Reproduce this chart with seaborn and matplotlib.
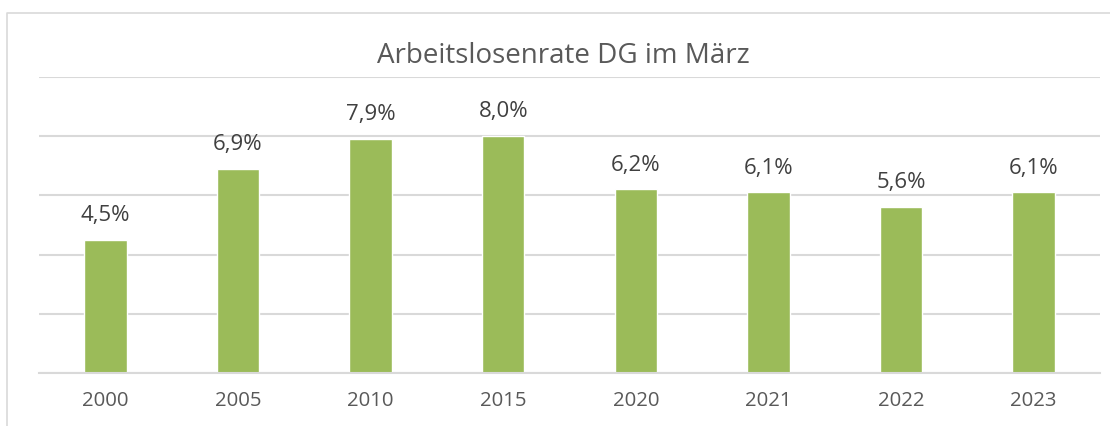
import matplotlib
matplotlib.use("Agg")
import matplotlib.pyplot as plt
from matplotlib.lines import Line2D
import seaborn as sns
import pandas as pd

# data
years = ["2000", "2005", "2010", "2015", "2020", "2021", "2022", "2023"]
rates = [4.5, 6.9, 7.9, 8.0, 6.2, 6.1, 5.6, 6.1]
labels = ["4,5%", "6,9%", "7,9%", "8,0%", "6,2%", "6,1%", "5,6%", "6,1%"]

df = pd.DataFrame({"Jahr": years, "Rate": rates})

sns.set_theme(style="white")
plt.rcParams["font.family"] = ["Open Sans", "DejaVu Sans"]

W, H = 1110, 426
fig = plt.figure(figsize=(W / 100, H / 100), dpi=100)
ax = fig.add_axes([39 / W, 1 - 373 / H, (1100 - 39) / W, (373 - 77) / H])

sns.barplot(data=df, x="Jahr", y="Rate", color="#9BBB59", width=0.32,
            saturation=1, ax=ax)

ax.set_ylim(0, 10)
ax.set_yticks([0, 2, 4, 6, 8, 10])
ax.set_yticklabels([])
ax.yaxis.grid(True, color="#D9D9D9", linewidth=1.5)
ax.set_axisbelow(True)
ax.tick_params(axis="both", length=0)
ax.tick_params(axis="x", labelsize=14.7, labelcolor="#595959", pad=13)
ax.set_xlabel("")
ax.set_ylabel("")
for s in ["left", "right", "top"]:
    ax.spines[s].set_visible(False)
ax.spines["bottom"].set_color("#D9D9D9")
ax.spines["bottom"].set_linewidth(1.5)

for i, (v, lab) in enumerate(zip(rates, labels)):
    ax.annotate(lab, (i, v), xytext=(0, 13.5), textcoords="offset points",
                ha="center", va="baseline", fontsize=16, color="#404040")

fig.text(563 / W, 1 - 63 / H, "Arbeitslosenrate DG im März", ha="center",
         va="baseline", fontsize=20, color="#595959")

# chart frame (only left and top edges are visible in the crop)
fx, fy = 7 / W, 1 - 13 / H
fig.add_artist(Line2D([fx, fx, 1], [0, fy, fy], color="#D9D9D9",
                      linewidth=1.2, transform=fig.transFigure))

fig.savefig("out.png", dpi=100, facecolor="white")
